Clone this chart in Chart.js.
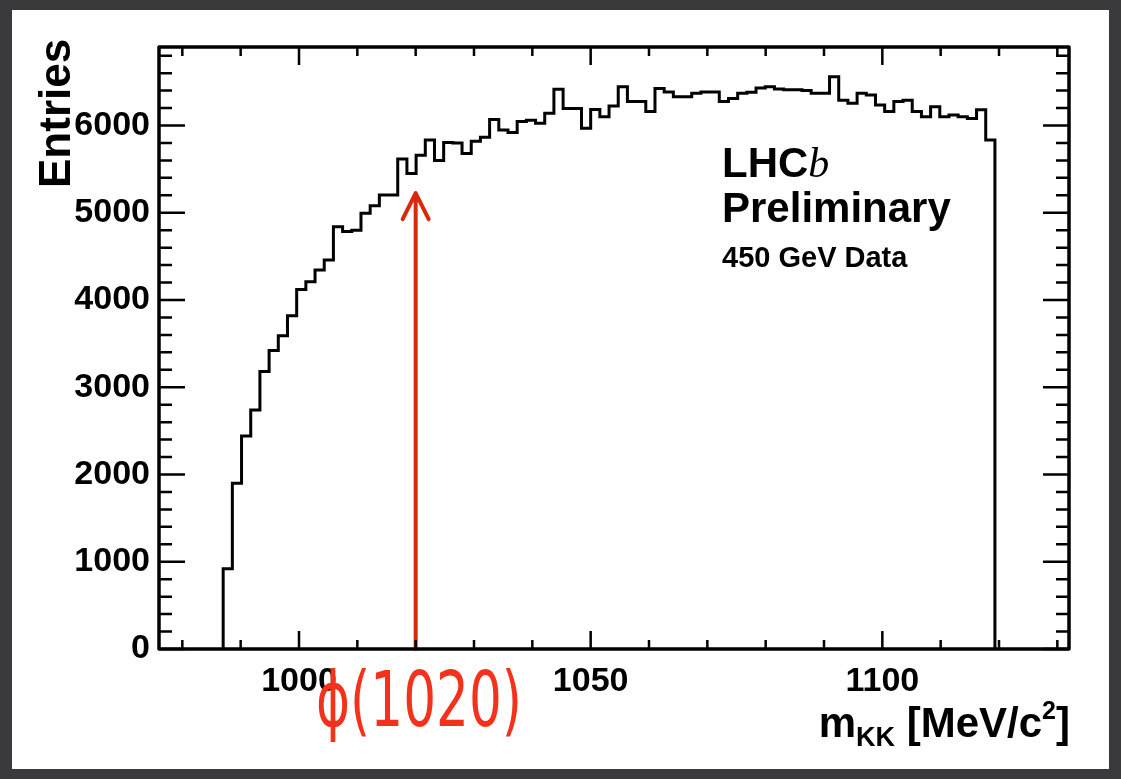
<!DOCTYPE html>
<html>
<head>
<meta charset="utf-8">
<title>m_KK LHCb preliminary</title>
<script src="https://cdn.jsdelivr.net/npm/chart.js@4.4.1/dist/chart.umd.min.js"></script>
<style>
    html, body { margin: 0; padding: 0; }
    body {
        width: 1121px; height: 779px; overflow: hidden; position: relative;
        background: #3a3a3c;
        font-family: "Liberation Sans", Arial, sans-serif;
    }
    .panel { position: absolute; left: 12px; top: 10px; width: 1097px; height: 759px; background: #fff; }
    .chart-wrap { position: absolute; left: 0; top: 0; width: 1121px; height: 779px; }
    .txt { position: absolute; color: #000; font-weight: bold; line-height: 1; white-space: nowrap; }
    .entries { left: 33px; top: 188px; font-size: 44px; transform: rotate(-90deg); transform-origin: left top; }
    .xtitle { right: 51px; top: 702px; font-size: 42px; }
    .xtitle sub { font-size: 27px; vertical-align: -9px; line-height: 0; }
    .xtitle sup { font-size: 25px; vertical-align: 18px; line-height: 0; }
    .lhcb { left: 722px; top: 142px; font-size: 42px; }
    .lhcb i { font-family: "Liberation Serif", "Times New Roman", serif; font-weight: normal; }
    .prelim { left: 722px; top: 187px; font-size: 42px; }
    .data { left: 722px; top: 243px; font-size: 29px; }
    .phi {
        left: 316px; top: 662px; font-size: 76px; font-weight: normal; color: #f4321c;
        font-family: "DejaVu Sans", sans-serif; transform: scaleX(0.68); transform-origin: left top;
    }
</style>
</head>
<body>
<div class="panel"></div>
<div class="chart-wrap"><canvas id="mkk"></canvas></div>
<div class="txt entries">Entries</div>
<div class="txt xtitle">m<sub>KK</sub> [MeV/c<sup>2</sup>]</div>
<div class="txt lhcb">LHC<i>b</i></div>
<div class="txt prelim">Preliminary</div>
<div class="txt data">450 GeV Data</div>
<div class="txt phi">ϕ(1020)</div>

<script>
// Histogramm: Binning und Eintraege
const binStart = 987.0;
const binWidth = 1.575;
const counts = [
    920, 1900, 2440, 2740, 3180, 3420, 3590, 3820, 4120, 4210,
    4345, 4460, 4840, 4785, 4800, 4995, 5080, 5205, 5205, 5615,
    5450, 5660, 5835, 5600, 5805, 5800, 5680, 5820, 5865, 6070,
    5950, 5920, 6045, 6060, 6025, 6140, 6415, 6195, 6195, 5970,
    6185, 6100, 6225, 6445, 6275, 6275, 6160, 6425, 6385, 6330,
    6330, 6370, 6385, 6385, 6275, 6310, 6370, 6380, 6430, 6445,
    6420, 6410, 6410, 6400, 6370, 6370, 6560, 6290, 6255, 6370,
    6350, 6235, 6160, 6275, 6290, 6160, 6100, 6215, 6100, 6120,
    6100, 6080, 6180, 5835
];

// Achsen
const xRange = [976, 1132];
const yRange = [0, 6900];
const xTickLabels = [1000, 1050, 1100];
const yTickLabels = [0, 1000, 2000, 3000, 4000, 5000, 6000];
const xMinorStep = 10;
const yMinorStep = 200;

// Pfeil auf phi(1020)
const phiMass = 1020;
const arrowTop = 5225;

// Stufenlinie: Start bei 0, jede Bin-Kante, Ende wieder bei 0
const points = [{ x: binStart, y: 0 }];
counts.forEach((c, i) => points.push({ x: binStart + i * binWidth, y: c }));
points.push({ x: binStart + counts.length * binWidth, y: 0 });

const tickFont = { family: '"Liberation Sans", Arial, sans-serif', size: 34, weight: 'bold' };

// ROOT-artiger Rahmen mit innenliegenden Ticks + roter Pfeil
const rootFrame = {
    id: 'rootFrame',
    afterDatasetsDraw(chart) {
        const { ctx, chartArea: a, scales: { x, y } } = chart;
        ctx.save();

        // Pfeil
        const ax = x.getPixelForValue(phiMass);
        const ay = y.getPixelForValue(arrowTop);
        ctx.strokeStyle = '#d8290f';
        ctx.lineWidth = 4;
        ctx.lineCap = 'round';
        ctx.lineJoin = 'round';
        ctx.beginPath();
        ctx.moveTo(ax, a.bottom);
        ctx.lineTo(ax, ay);
        ctx.moveTo(ax - 13, ay + 26);
        ctx.lineTo(ax, ay);
        ctx.lineTo(ax + 13, ay + 26);
        ctx.stroke();

        ctx.strokeStyle = '#000';
        ctx.lineCap = 'butt';
        ctx.lineWidth = 2.5;
        ctx.beginPath();
        for (let v = yRange[0]; v <= yRange[1]; v += yMinorStep) {
            const py = y.getPixelForValue(v);
            const len = yTickLabels.includes(v) ? 26 : 13;
            ctx.moveTo(a.left, py); ctx.lineTo(a.left + len, py);
            ctx.moveTo(a.right, py); ctx.lineTo(a.right - len, py);
        }
        for (let v = 980; v <= xRange[1]; v += xMinorStep) {
            const px = x.getPixelForValue(v);
            const len = xTickLabels.includes(v) ? 18 : 9;
            ctx.moveTo(px, a.bottom); ctx.lineTo(px, a.bottom - len);
            ctx.moveTo(px, a.top); ctx.lineTo(px, a.top + len);
        }
        ctx.stroke();

        ctx.lineWidth = 3.5;
        ctx.strokeRect(a.left, a.top, a.right - a.left, a.bottom - a.top);
        ctx.restore();
    }
};

new Chart(document.getElementById('mkk'), {
    type: 'line',
    data: {
        datasets: [{
            data: points,
            stepped: 'before',
            borderColor: '#000',
            borderWidth: 3,
            pointRadius: 0,
            fill: false,
            tension: 0
        }]
    },
    options: {
        responsive: true,
        maintainAspectRatio: false,
        animation: false,
        layout: { padding: { left: 0, top: 47, right: 52, bottom: 0 } },
        plugins: { legend: { display: false }, tooltip: { enabled: false } },
        scales: {
            x: {
                type: 'linear',
                min: xRange[0],
                max: xRange[1],
                afterBuildTicks: (s) => { s.ticks = xTickLabels.map(v => ({ value: v })); },
                afterFit: (s) => { s.height = 130; },
                ticks: { color: '#000', font: tickFont, padding: 12, autoSkip: false, maxRotation: 0, callback: v => String(v) },
                grid: { display: false, drawTicks: false },
                border: { display: false }
            },
            y: {
                type: 'linear',
                min: yRange[0],
                max: yRange[1],
                afterBuildTicks: (s) => { s.ticks = yTickLabels.map(v => ({ value: v })); },
                afterFit: (s) => { s.width = 159; },
                ticks: { color: '#000', font: tickFont, padding: 9, callback: v => String(v) },
                grid: { display: false, drawTicks: false },
                border: { display: false }
            }
        }
    },
    plugins: [rootFrame]
});
</script>
</body>
</html>
